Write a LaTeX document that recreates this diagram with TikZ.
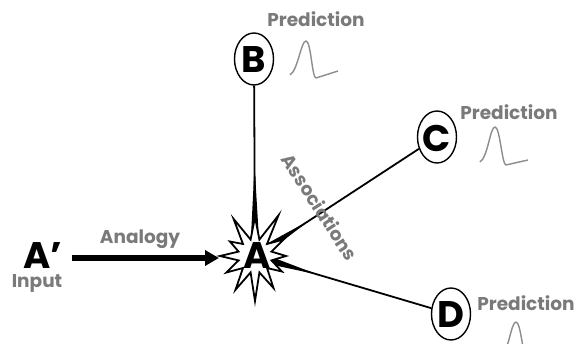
\documentclass[tikz,border=0pt]{standalone}
\usepackage{fontspec}
\setmainfont{Poppins}
\usetikzlibrary{arrows.meta,calc,shapes.geometric}
\definecolor{txtgray}{HTML}{7A7A7A}
\definecolor{pulsegray}{HTML}{8C8C8C}
\begin{document}
\begin{tikzpicture}[x=1pt,y=-1pt,
  letter/.style={font=\fontsize{37}{37}\selectfont\bfseries, inner sep=0pt},
  oval/.style={draw, ellipse, line width=1.4pt, minimum width=39pt, minimum height=52pt, inner sep=0pt, fill=white},
  graytext/.style={text=txtgray, font=\fontsize{18.5}{18.5}\selectfont\bfseries, inner sep=0pt},
  pulse/.style={draw=pulsegray, line width=1.4pt, line join=round},
  conn/.style={line width=1.8pt},
  wedge/.style={fill=black},
  starsty/.style={draw, fill=white, line width=1.8pt, line join=miter}
]
\useasboundingbox (0,0) rectangle (580,344);

% coordinates
\coordinate (A) at (255,256);
\coordinate (Aleft) at (219,258);

% ovals
\node[oval] (B) at (254,59) {};
\node[oval] (C) at (437,137) {};
\node[oval] (D) at (451,314) {};

% connectors with wedges
\foreach \t/\f in {B/0.46,C/0.30,D/0.32}{
  \draw[conn] (A) -- (\t);
  \fill[wedge] ($(A)!5pt!90:(\t)$) -- ($(A)!\f!(\t)$) -- ($(A)!5pt!-90:(\t)$) -- cycle;
}

% star
\draw[starsty, shift={(255,256)}]
  (0:31) -- (15:17) -- (30:31) -- (45:17) -- (60:37) -- (75:17) -- (90:45) -- (105:17)
  -- (120:39) -- (135:17) -- (150:33) -- (165:17) -- (180:35) -- (195:17) -- (210:29)
  -- (225:17) -- (240:43) -- (255:17) -- (270:39) -- (285:17) -- (300:47) -- (315:17)
  -- (330:33) -- (345:17) -- cycle;

% letters
\node[letter] (Al) at (257,256) {A};
\node[letter] (Bl) at (254,60) {B};
\node[letter] (Cl) at (437,138) {C};
\node[letter] (Dl) at (451,315) {D};

% input
\node[letter] (Ap) at (43,256) {A’};
\node[graytext] (inp) at (37,283) {Input};
\coordinate (Astart) at (72,258);
\draw[line width=6pt, -{Triangle[length=14pt,width=15pt]}] (Astart) -- (Aleft);
\node[graytext] (ana) at (140,239) {Analogy};

% associations
\node[graytext, rotate=-57] (assoc) at (320,207) {Associations};

% predictions
\node[graytext] (pB) at (316,19) {Prediction};
\node[graytext] (pC) at (509,112) {Prediction};
\node[graytext] (pD) at (526,303) {Prediction};

% pulses
\draw[pulse] (290,75) .. controls (298,70) and (301,41) .. (306,41) .. controls (311,41) and (312,78) .. (316,78) -- (338,71);
\draw[pulse] (480,162) .. controls (488,157) and (490,127) .. (495,127) .. controls (500,127) and (502,165) .. (506,165) -- (528,160);
\draw[pulse] (501,356) .. controls (509,351) and (511,322) .. (516,322) .. controls (521,322) and (523,359) .. (527,359) -- (549,353);
\end{tikzpicture}
\end{document}
